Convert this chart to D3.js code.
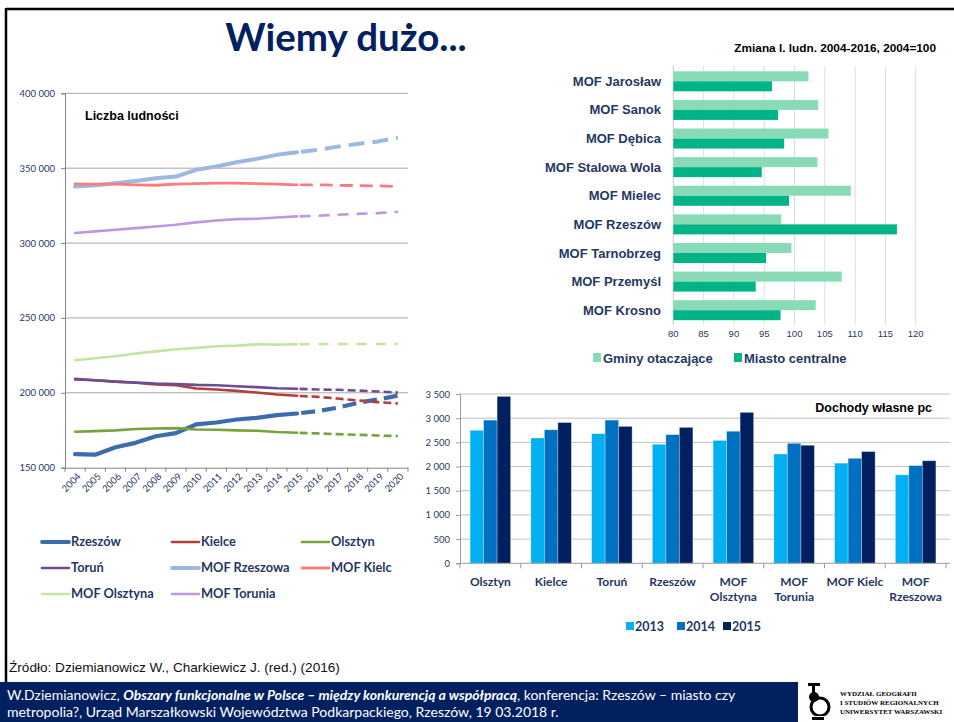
<!DOCTYPE html>
<html>
<head>
<meta charset="utf-8">
<script src="https://cdn.jsdelivr.net/npm/d3@7/dist/d3.min.js"></script>
<style>
  body { margin: 0; background: #fff; }
  svg { display: block; }
</style>
</head>
<body>
<svg id="slide" width="954" height="722"></svg>
<script>
// ---- data: population (Liczba ludności), 2016-2020 = projection ----
var years = [2004, 2005, 2006, 2007, 2008, 2009, 2010, 2011, 2012, 2013, 2014, 2015, 2016, 2017, 2018, 2019, 2020];
var lastObserved = 2015;
var lineNames = ['Rzeszów', 'Kielce', 'Olsztyn', 'Toruń', 'MOF Rzeszowa', 'MOF Kielc', 'MOF Olsztyna', 'MOF Torunia'];
var rzeszowPop = [159000, 158700, 163700, 166600, 171000, 173100, 178900, 180200, 182200, 183300, 185100, 186200, 187800, 190000, 193300, 195500, 198200];
var kielcePop = [209300, 208400, 207500, 206700, 205600, 205100, 202900, 202200, 201300, 200200, 198900, 198000, 197300, 196200, 194900, 193800, 192900];
var olsztynPop = [174000, 174400, 174900, 175800, 176200, 176400, 175500, 175300, 174900, 174700, 173800, 173300, 172900, 172400, 172000, 171500, 171100];
var torunPop = [208900, 208400, 207500, 206900, 206200, 205800, 205300, 205100, 204400, 203800, 203100, 202700, 202200, 202000, 201500, 200900, 200200];
var mofRzeszowaPop = [337700, 338600, 340000, 341500, 343300, 344400, 348900, 351100, 354000, 356200, 358900, 360600, 362200, 364400, 366200, 367800, 370400];
var mofKielcPop = [339500, 339300, 339300, 338900, 338600, 339300, 339700, 340000, 340000, 339700, 339300, 338900, 338900, 338600, 338400, 338200, 337800];
var mofOlsztynaPop = [221800, 223100, 224400, 226200, 227700, 229100, 230000, 231100, 231500, 232400, 232200, 232400, 232500, 232600, 232600, 232600, 232700];
var mofToruniaPop = [306700, 307800, 308900, 310000, 311100, 312200, 313800, 315100, 316000, 316200, 317100, 317800, 318200, 318900, 319500, 320000, 320900];
var popTicks = [150000, 200000, 250000, 300000, 350000, 400000];

// ---- data: Zmiana l. ludn. 2004-2016, 2004=100 ----
var mofCategories = ['MOF Jarosław', 'MOF Sanok', 'MOF Dębica', 'MOF Stalowa Wola', 'MOF Mielec', 'MOF Rzeszów', 'MOF Tarnobrzeg', 'MOF Przemyśl', 'MOF Krosno'];
var gminyValues = [102.3, 103.9, 105.6, 103.8, 109.3, 97.8, 99.5, 107.8, 103.5];
var miastoValues = [96.3, 97.3, 98.3, 94.6, 99.1, 116.9, 95.3, 93.6, 97.7];
var changeTicks = [80, 85, 90, 95, 100, 105, 110, 115, 120];

// ---- data: Dochody własne pc ----
var colCategories = ['Olsztyn', 'Kielce', 'Toruń', 'Rzeszów', 'MOF Olsztyna', 'MOF Torunia', 'MOF Kielc', 'MOF Rzeszowa'];
var colTickLines = [['Olsztyn'], ['Kielce'], ['Toruń'], ['Rzeszów'], ['MOF', 'Olsztyna'], ['MOF', 'Torunia'], ['MOF Kielc'], ['MOF', 'Rzeszowa']];
var colYears = ['2013', '2014', '2015'];
var income2013 = [2750, 2590, 2680, 2460, 2540, 2260, 2070, 1830];
var income2014 = [2960, 2760, 2960, 2660, 2730, 2480, 2170, 2020];
var income2015 = [3450, 2910, 2830, 2810, 3120, 2440, 2310, 2120];
var incomeTicks = [0, 500, 1000, 1500, 2000, 2500, 3000, 3500];

var svg = d3.select('#slide'),
    NAVY = '#1f3864',
    CALIBRI = 'Lato, "Open Sans", sans-serif',
    ARIAL = '"Liberation Sans", Arial, sans-serif',
    spaced = v => d3.format(',')(v).replace(/,/g, ' ');

// styles per line series (colour, width, dash)
var lineStyles = {
  'Rzeszów':      {color: '#3d6cad', width: 4.2, dash: '14,7'},
  'Kielce':       {color: '#b23f3c', width: 2.6, dash: '8,4'},
  'Olsztyn':      {color: '#78a23d', width: 2.6, dash: '8,4'},
  'Toruń':        {color: '#6b4d94', width: 2.6, dash: '8,4'},
  'MOF Rzeszowa': {color: '#9db8e2', width: 4, dash: '16,8'},
  'MOF Kielc':    {color: '#ff7b7f', width: 2.8, dash: '13,7'},
  'MOF Olsztyna': {color: '#c5e49f', width: 2.6, dash: '10,9'},
  'MOF Torunia':  {color: '#bf97df', width: 2.6, dash: '11,8'}
};

function drawFrame() {
  svg.append('line').attr('x1', 6).attr('y1', 9).attr('x2', 954).attr('y2', 9)
    .attr('stroke', '#000').attr('stroke-width', 2.5);
  svg.append('line').attr('x1', 6).attr('y1', 8).attr('x2', 6).attr('y2', 682)
    .attr('stroke', '#000').attr('stroke-width', 2.5);
  svg.append('text')
    .attr('x', 346).attr('y', 51)
    .attr('text-anchor', 'middle')
    .style('font-family', CALIBRI).style('font-weight', 'bold').style('font-size', '38.5px')
    .attr('fill', '#002060')
    .text('Wiemy dużo...');
}

function drawLineChart() {
  var g = svg.append('g').attr('class', 'population'),
      x = d3.scaleBand().domain(years).range([65, 408]),
      y = d3.scaleLinear().domain([150000, 400000]).range([467.7, 93.3]),
      series = [rzeszowPop, kielcePop, olsztynPop, torunPop, mofRzeszowaPop, mofKielcPop, mofOlsztynaPop, mofToruniaPop];

  // gridlines
  g.selectAll('line.grid').data(popTicks.slice(1)).enter().append('line')
    .attr('x1', 65).attr('x2', 408)
    .attr('y1', d => y(d)).attr('y2', d => y(d))
    .attr('stroke', '#a6a6a6').attr('stroke-width', 1);

  // y axis
  var yAxis = g.append('g').attr('transform', 'translate(65,0)')
    .call(d3.axisLeft(y).tickValues(popTicks).tickSize(4).tickPadding(6).tickFormat(spaced));
  yAxis.select('.domain').attr('stroke', '#868686');
  yAxis.selectAll('.tick line').attr('stroke', '#868686');
  yAxis.selectAll('.tick text')
    .style('font-family', CALIBRI).style('font-size', '9.5px').attr('fill', NAVY);

  // x axis with ticks between categories
  var xAxis = g.append('g').attr('transform', 'translate(0,467.7)')
    .call(d3.axisBottom(x).tickSize(0).tickPadding(0));
  xAxis.select('.domain').attr('stroke', '#868686');
  xAxis.selectAll('.tick text')
    .attr('y', 0).attr('dy', '0.35em')
    .attr('transform', 'translate(4,7) rotate(-45)')
    .style('text-anchor', 'end')
    .style('font-family', CALIBRI).style('font-size', '9.5px').attr('fill', NAVY);
  xAxis.selectAll('line.sep').data(d3.range(years.length + 1)).enter().append('line')
    .attr('x1', i => x.range()[0] + i * x.step()).attr('x2', i => x.range()[0] + i * x.step())
    .attr('y1', 0).attr('y2', 4)
    .attr('stroke', '#868686');

  var line = d3.line()
    .x(d => x(d.year) + x.bandwidth() / 2)
    .y(d => y(d.value));

  series.forEach(function (values, idx) {
    var name = lineNames[idx],
        st = lineStyles[name],
        points = years.map((yr, i) => ({year: yr, value: values[i]})),
        observed = points.filter(p => p.year <= lastObserved),
        projected = points.filter(p => p.year >= lastObserved);
    g.append('path').datum(observed)
      .attr('d', line)
      .attr('fill', 'none').attr('stroke', st.color).attr('stroke-width', st.width)
      .attr('stroke-linejoin', 'round').attr('stroke-linecap', 'round');
    g.append('path').datum(projected)
      .attr('d', line)
      .attr('fill', 'none').attr('stroke', st.color).attr('stroke-width', st.width)
      .attr('stroke-dasharray', st.dash)
      .attr('stroke-dashoffset', -st.width)
      .attr('stroke-linejoin', 'round');
  });

  g.append('text')
    .attr('x', 85).attr('y', 120)
    .style('font-family', ARIAL).style('font-weight', 'bold').style('font-size', '12.5px')
    .attr('fill', '#000')
    .text('Liczba ludności');

  // legend, three per row
  var legend = g.append('g').attr('class', 'legend');
  lineNames.forEach(function (name, i) {
    var st = lineStyles[name],
        col = i % 3,
        row = Math.floor(i / 3),
        lx = 42 + col * 130,
        ly = 542 + row * 26;
    legend.append('line')
      .attr('x1', lx).attr('x2', lx + 27).attr('y1', ly).attr('y2', ly)
      .attr('stroke', st.color).attr('stroke-width', Math.min(st.width, 3.8))
      .attr('stroke-linecap', 'round');
    legend.append('text')
      .attr('x', lx + 29).attr('y', ly).attr('dy', '0.35em')
      .style('font-family', CALIBRI).style('font-weight', 'bold').style('font-size', '12.8px')
      .attr('fill', NAVY)
      .text(name);
  });
}

function drawChangeChart() {
  var g = svg.append('g').attr('class', 'change'),
      x = d3.scaleLinear().domain([80, 120]).range([673.3, 915.7]),
      y = d3.scaleBand().domain(mofCategories).range([67, 324.5]),
      groupH = y.bandwidth() * 0.7,
      barH = groupH / 2,
      offset = (y.bandwidth() - groupH) / 2;

  g.selectAll('line.grid').data(changeTicks).enter().append('line')
    .attr('x1', d => x(d)).attr('x2', d => x(d))
    .attr('y1', 66).attr('y2', 325)
    .attr('stroke', d => d === 80 ? '#c8c8c8' : '#dedede').attr('stroke-width', 1);

  g.selectAll('text.tick').data(changeTicks).enter().append('text')
    .attr('x', d => x(d)).attr('y', 334).attr('dy', '0.35em')
    .attr('text-anchor', 'middle')
    .style('font-family', ARIAL).style('font-size', '9.5px')
    .attr('fill', NAVY)
    .text(d => d);

  g.selectAll('rect.gminy').data(gminyValues).enter().append('rect')
    .attr('x', x(80))
    .attr('y', (d, i) => y(mofCategories[i]) + offset)
    .attr('width', d => x(d) - x(80))
    .attr('height', barH)
    .attr('fill', '#88dbb6');
  g.selectAll('rect.miasto').data(miastoValues).enter().append('rect')
    .attr('x', x(80))
    .attr('y', (d, i) => y(mofCategories[i]) + offset + barH)
    .attr('width', d => x(d) - x(80))
    .attr('height', barH)
    .attr('fill', '#00b487');

  g.selectAll('text.cat').data(mofCategories).enter().append('text')
    .attr('x', 661).attr('y', d => y(d) + y.bandwidth() / 2).attr('dy', '0.35em')
    .attr('text-anchor', 'end')
    .style('font-family', ARIAL).style('font-weight', 'bold').style('font-size', '13px')
    .attr('fill', NAVY)
    .text(d => d);

  g.append('text')
    .attr('x', 936).attr('y', 52)
    .attr('text-anchor', 'end')
    .style('font-family', ARIAL).style('font-weight', 'bold').style('font-size', '11.8px')
    .attr('fill', '#000')
    .text('Zmiana l. ludn. 2004-2016, 2004=100');

  var legendItems = [{label: 'Gminy otaczające', color: '#88dbb6', x: 593},
                     {label: 'Miasto centralne', color: '#00b487', x: 734}];
  legendItems.forEach(function (item) {
    g.append('rect').attr('x', item.x).attr('y', 353).attr('width', 8).attr('height', 9)
      .attr('fill', item.color);
    g.append('text')
      .attr('x', item.x + 10).attr('y', 358).attr('dy', '0.38em')
      .style('font-family', ARIAL).style('font-weight', 'bold').style('font-size', '13px')
      .attr('fill', NAVY)
      .text(item.label);
  });
}

function drawIncomeChart() {
  var g = svg.append('g').attr('class', 'income'),
      x0 = d3.scaleBand().domain(colCategories).range([460, 946]),
      bw = x0.bandwidth(),
      groupW = 40.5,
      x1 = d3.scaleBand().domain(colYears).range([(bw - groupW) / 2, (bw + groupW) / 2]),
      y = d3.scaleLinear().domain([0, 3500]).range([563.3, 394]),
      values = [income2013, income2014, income2015],
      colors = ['#00b0f0', '#0070c0', '#002060'];

  g.selectAll('line.grid').data(incomeTicks.slice(1)).enter().append('line')
    .attr('x1', 460).attr('x2', 950)
    .attr('y1', d => y(d)).attr('y2', d => y(d))
    .attr('stroke', '#c0c0c0').attr('stroke-width', 1);

  var yAxis = g.append('g').attr('transform', 'translate(460,0)')
    .call(d3.axisLeft(y).tickValues(incomeTicks).tickSize(4).tickPadding(6).tickFormat(spaced));
  yAxis.select('.domain').attr('stroke', '#9a9a9a');
  yAxis.selectAll('.tick line').attr('stroke', '#9a9a9a');
  yAxis.selectAll('.tick text')
    .style('font-family', CALIBRI).style('font-size', '9.5px').attr('fill', NAVY);

  values.forEach(function (vals, k) {
    g.selectAll('rect.y' + colYears[k]).data(vals).enter().append('rect')
      .attr('x', (d, i) => x0(colCategories[i]) + x1(colYears[k]))
      .attr('y', d => y(d))
      .attr('width', x1.bandwidth())
      .attr('height', d => y(0) - y(d))
      .attr('fill', colors[k])
      .attr('stroke', 'rgba(255,255,255,0.35)').attr('stroke-width', 0.8);
  });

  g.append('line').attr('x1', 460).attr('x2', 950).attr('y1', y(0)).attr('y2', y(0))
    .attr('stroke', '#9a9a9a');
  g.selectAll('line.sep').data(d3.range(colCategories.length + 1)).enter().append('line')
    .attr('x1', i => 460 + i * x0.step()).attr('x2', i => 460 + i * x0.step())
    .attr('y1', y(0)).attr('y2', y(0) + 5)
    .attr('stroke', '#9a9a9a');

  colCategories.forEach(function (name, i) {
    var t = g.append('text')
      .attr('text-anchor', 'middle')
      .style('font-family', CALIBRI).style('font-weight', 'bold').style('font-size', '12px')
      .attr('fill', NAVY);
    colTickLines[i].forEach(function (ln, j) {
      t.append('tspan')
        .attr('x', x0(name) + bw / 2).attr('y', 582 + j * 15).attr('dy', '0.35em')
        .text(ln);
    });
  });

  g.append('text')
    .attr('x', 932).attr('y', 412)
    .attr('text-anchor', 'end')
    .style('font-family', ARIAL).style('font-weight', 'bold').style('font-size', '12.5px')
    .attr('fill', '#000')
    .text('Dochody własne pc');

  var legendX = [626, 677, 723];
  colYears.forEach(function (yr, k) {
    g.append('rect').attr('x', legendX[k]).attr('y', 622).attr('width', 8).attr('height', 8)
      .attr('fill', colors[k]);
    g.append('text')
      .attr('x', legendX[k] + 9).attr('y', 626).attr('dy', '0.38em')
      .style('font-family', CALIBRI).style('font-weight', 'bold').style('font-size', '12.5px')
      .attr('fill', NAVY)
      .text(yr);
  });
}

function drawFooter() {
  svg.append('text')
    .attr('x', 9).attr('y', 672)
    .style('font-family', ARIAL).style('font-size', '13.6px')
    .attr('fill', '#111')
    .text('Źródło: Dziemianowicz W., Charkiewicz J. (red.)  (2016)');

  svg.append('rect').attr('x', 0).attr('y', 682).attr('width', 798).attr('height', 40)
    .attr('fill', '#002060');
  var l1 = svg.append('text')
    .attr('x', 7).attr('y', 700)
    .style('font-family', CALIBRI).style('font-size', '14px')
    .attr('fill', '#fff');
  l1.append('tspan').text('W.Dziemianowicz, ');
  l1.append('tspan').style('font-weight', 'bold').style('font-style', 'italic')
    .text('Obszary funkcjonalne w Polsce – między konkurencją a współpracą');
  l1.append('tspan').text(', konferencja: Rzeszów – miasto czy');
  svg.append('text')
    .attr('x', 7).attr('y', 717)
    .style('font-family', CALIBRI).style('font-size', '14px')
    .attr('fill', '#fff')
    .text('metropolia?, Urząd Marszałkowski Województwa Podkarpackiego, Rzeszów, 19 03.2018 r.');

  // faculty logo
  var logo = svg.append('g').attr('class', 'logo');
  logo.append('rect').attr('x', 808).attr('y', 683).attr('width', 12).attr('height', 3).attr('fill', '#000');
  logo.append('rect').attr('x', 812).attr('y', 685).attr('width', 3).attr('height', 8).attr('fill', '#000');
  logo.append('circle').attr('cx', 814).attr('cy', 697).attr('r', 5).attr('fill', '#000');
  logo.append('circle').attr('cx', 820).attr('cy', 707).attr('r', 9)
    .attr('fill', 'none').attr('stroke', '#000').attr('stroke-width', 3);
  logo.append('rect').attr('x', 808).attr('y', 716).attr('width', 20).attr('height', 6).attr('fill', '#fff');
  logo.append('rect').attr('x', 812).attr('y', 717).attr('width', 12).attr('height', 3).attr('fill', '#000');
  var logoLines = ['WYDZIAŁ GEOGRAFII', 'I STUDIÓW REGIONALNYCH', 'UNIWERSYTET WARSZAWSKI'];
  logoLines.forEach(function (ln, i) {
    logo.append('text')
      .attr('x', 840).attr('y', 696 + i * 8.8)
      .style('font-family', '"Liberation Serif", serif').style('font-weight', 'bold').style('font-size', '7px')
      .attr('fill', '#000')
      .text(ln);
  });
}

drawFrame();
drawLineChart();
drawChangeChart();
drawIncomeChart();
drawFooter();
</script>
</body>
</html>
